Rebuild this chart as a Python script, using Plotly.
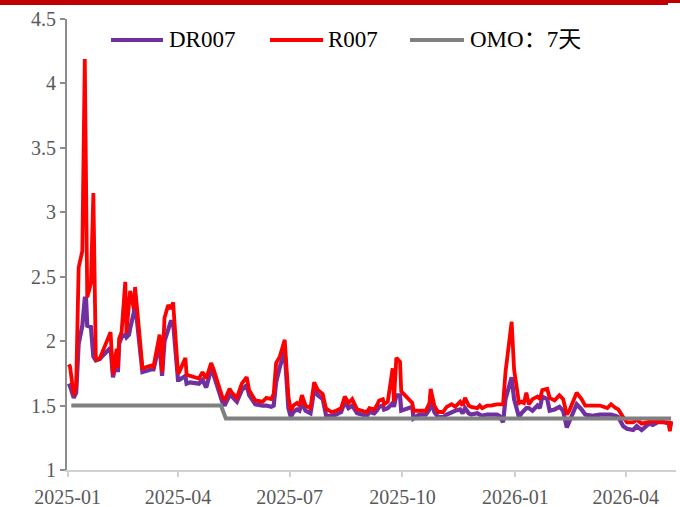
import plotly.graph_objects as go

# ---------------- data ----------------
dates = [
    "2025-01-02", "2025-01-03", "2025-01-06", "2025-01-08", "2025-01-10", "2025-01-13",
    "2025-01-15", "2025-01-16", "2025-01-17", "2025-01-20", "2025-01-22", "2025-01-24",
    "2025-01-27", "2025-02-05", "2025-02-07", "2025-02-10", "2025-02-11", "2025-02-12",
    "2025-02-14", "2025-02-17", "2025-02-18", "2025-02-20", "2025-02-21", "2025-02-24",
    "2025-02-25", "2025-02-28", "2025-03-03", "2025-03-10", "2025-03-12", "2025-03-17",
    "2025-03-19", "2025-03-21", "2025-03-24", "2025-03-26", "2025-03-28", "2025-04-01",
    "2025-04-02", "2025-04-07", "2025-04-08", "2025-04-11", "2025-04-18", "2025-04-21",
    "2025-04-24", "2025-04-28", "2025-04-30", "2025-05-07", "2025-05-09", "2025-05-13",
    "2025-05-15", "2025-05-19", "2025-05-23", "2025-05-27", "2025-05-29", "2025-06-03",
    "2025-06-09", "2025-06-12", "2025-06-16", "2025-06-18", "2025-06-20", "2025-06-23",
    "2025-06-27", "2025-06-30", "2025-07-02", "2025-07-04", "2025-07-07", "2025-07-09",
    "2025-07-11", "2025-07-14", "2025-07-18", "2025-07-21", "2025-07-24", "2025-07-28",
    "2025-07-31", "2025-08-01", "2025-08-04", "2025-08-08", "2025-08-12", "2025-08-15",
    "2025-08-18", "2025-08-21", "2025-08-25", "2025-08-29", "2025-09-02", "2025-09-04",
    "2025-09-08", "2025-09-10", "2025-09-12", "2025-09-15", "2025-09-16", "2025-09-19",
    "2025-09-23", "2025-09-24", "2025-09-26", "2025-09-29", "2025-09-30", "2025-10-09",
    "2025-10-10", "2025-10-13", "2025-10-15", "2025-10-20", "2025-10-23", "2025-10-24",
    "2025-10-27", "2025-10-30", "2025-11-03", "2025-11-06", "2025-11-10", "2025-11-13",
    "2025-11-17", "2025-11-19", "2025-11-21", "2025-11-24", "2025-11-26", "2025-12-01",
    "2025-12-03", "2025-12-05", "2025-12-09", "2025-12-12", "2025-12-17", "2025-12-19",
    "2025-12-22", "2025-12-24", "2025-12-29", "2025-12-31", "2026-01-04", "2026-01-06",
    "2026-01-08", "2026-01-10", "2026-01-12", "2026-01-15", "2026-01-19", "2026-01-21",
    "2026-01-23", "2026-01-27", "2026-01-29", "2026-02-02", "2026-02-06", "2026-02-09",
    "2026-02-12", "2026-02-14", "2026-02-20", "2026-02-24", "2026-02-27", "2026-03-05",
    "2026-03-11", "2026-03-17", "2026-03-20", "2026-03-24", "2026-03-26", "2026-03-30",
    "2026-04-02", "2026-04-07", "2026-04-10", "2026-04-14", "2026-04-20", "2026-04-23",
    "2026-04-29", "2026-05-06", "2026-05-07", "2026-05-08",
]

r007 = [
    1.82, 1.80, 1.58, 1.66, 2.57, 2.70,
    4.19, 2.72, 2.34, 2.45, 3.15, 1.86,
    1.86, 2.07, 1.74, 1.94, 1.79, 2.02,
    2.07, 2.46, 2.06, 2.29, 2.39, 2.25,
    2.42, 2.11, 1.79, 1.81, 1.80, 2.05,
    1.76, 2.18, 2.28, 2.25, 2.30, 1.75,
    1.76, 1.87, 1.74, 1.73, 1.71, 1.76,
    1.71, 1.83, 1.78, 1.57, 1.54, 1.63,
    1.60, 1.56, 1.67, 1.72, 1.62, 1.54,
    1.53, 1.56, 1.55, 1.59, 1.83, 1.88,
    2.01, 1.57, 1.46, 1.50, 1.52, 1.50,
    1.58, 1.50, 1.48, 1.68, 1.62, 1.59,
    1.46, 1.47, 1.45, 1.46, 1.48, 1.57,
    1.52, 1.55, 1.47, 1.46, 1.45, 1.48,
    1.47, 1.50, 1.54, 1.55, 1.51, 1.53,
    1.79, 1.53, 1.87, 1.84, 1.61, 1.52,
    1.46, 1.46, 1.46, 1.46, 1.52, 1.63,
    1.50, 1.45, 1.45, 1.49, 1.51, 1.49,
    1.53, 1.50, 1.56, 1.50, 1.49, 1.48,
    1.50, 1.48, 1.50, 1.50, 1.51, 1.51,
    1.51, 1.76, 2.15, 1.78, 1.52, 1.53,
    1.52, 1.60, 1.51, 1.55, 1.57, 1.55,
    1.62, 1.63, 1.56, 1.54, 1.58, 1.55,
    1.43, 1.46, 1.60, 1.55, 1.50, 1.50,
    1.50, 1.48, 1.51, 1.48, 1.47, 1.41,
    1.37, 1.37, 1.39, 1.36, 1.37, 1.38,
    1.37, 1.37, 1.30, 1.38,
]

dr007 = [
    1.67, 1.65, 1.56, 1.60, 1.98, 2.12,
    2.33, 2.33, 2.12, 2.11, 1.88, 1.85,
    1.86, 1.95, 1.72, 1.86, 1.76, 1.98,
    2.03, 2.05, 2.03, 2.05, 2.10, 2.22,
    2.30, 2.05, 1.76, 1.78, 1.78, 1.98,
    1.73, 2.00, 2.10, 2.15, 2.15, 1.70,
    1.70, 1.73, 1.67, 1.68, 1.67, 1.70,
    1.64, 1.78, 1.74, 1.53, 1.50, 1.58,
    1.57, 1.53, 1.62, 1.66, 1.58, 1.51,
    1.50, 1.50, 1.49, 1.50, 1.68, 1.80,
    1.92, 1.48, 1.41, 1.45, 1.47, 1.46,
    1.52, 1.46, 1.44, 1.62, 1.58, 1.55,
    1.41, 1.42, 1.42, 1.43, 1.45, 1.53,
    1.48, 1.50, 1.44, 1.43, 1.42, 1.45,
    1.44, 1.46, 1.49, 1.50, 1.47, 1.48,
    1.52, 1.49, 1.58, 1.58, 1.46, 1.49,
    1.40, 1.42, 1.43, 1.43, 1.47, 1.57,
    1.45, 1.41, 1.41, 1.43, 1.45, 1.46,
    1.47, 1.44, 1.48, 1.44, 1.43, 1.44,
    1.43, 1.42, 1.43, 1.43, 1.43, 1.42,
    1.37, 1.55, 1.72, 1.55, 1.41, 1.44,
    1.46, 1.48, 1.48, 1.46, 1.50, 1.48,
    1.57, 1.55, 1.46, 1.47, 1.49, 1.46,
    1.33, 1.38, 1.51, 1.47, 1.43, 1.42,
    1.43, 1.43, 1.43, 1.42, 1.41, 1.34,
    1.32, 1.31, 1.34, 1.31, 1.36, 1.35,
    1.38, 1.36, 1.33, 1.37,
]

omo_dates = ["2025-01-04", "2025-05-06", "2025-05-10", "2026-05-08"]
omo_7d = [1.5, 1.5, 1.4, 1.4]

series_names = ["DR007", "R007", "OMO：7天"]
series_colors = ["#7030A0", "#FF0000", "#808080"]

x_tick_vals = ["2025-01-01", "2025-04-01", "2025-07-01", "2025-10-01", "2026-01-01", "2026-04-01"]
x_tick_text = ["2025-01", "2025-04", "2025-07", "2025-10", "2026-01", "2026-04"]
y_tick_vals = [1, 1.5, 2, 2.5, 3, 3.5, 4, 4.5]
y_tick_text = ["1", "1.5", "2", "2.5", "3", "3.5", "4", "4.5"]

# ---------------- layout helpers ----------------
W, H = 680, 507
ML, MR, MT, MB = 67, 4, 19, 37
PW, PH = W - ML - MR, H - MT - MB


def px(x):
    return (x - ML) / PW


def py(y):
    return (H - MB - y) / PH


FONT = "'Liberation Serif', 'Noto Sans CJK SC', serif"

fig = go.Figure()
fig.add_trace(go.Scatter(x=dates, y=dr007, mode="lines", name=series_names[0],
                         line=dict(color=series_colors[0], width=4.2)))
fig.add_trace(go.Scatter(x=dates, y=r007, mode="lines", name=series_names[1],
                         line=dict(color=series_colors[1], width=3.8)))
fig.add_trace(go.Scatter(x=omo_dates, y=omo_7d, mode="lines", name=series_names[2],
                         line=dict(color=series_colors[2], width=4)))

shapes = []
# top red banner
shapes.append(dict(type="rect", xref="paper", yref="paper", x0=px(0), x1=px(668),
                   y0=py(5), y1=py(0), fillcolor="#C00000", line=dict(width=0), layer="above"))
shapes.append(dict(type="rect", xref="paper", yref="paper", x0=px(668), x1=px(680),
                   y0=py(3), y1=py(0), fillcolor="#C00000", line=dict(width=0), layer="above"))

# custom legend
leg_y = 40
leg_items = [(111, 163, 167), (270, 323, 326), (410, 464, 468)]
annotations = []
for (x0, x1, xt), name, col in zip(leg_items, series_names, series_colors):
    shapes.append(dict(type="line", xref="paper", yref="paper", x0=px(x0), x1=px(x1),
                       y0=py(leg_y), y1=py(leg_y), line=dict(color=col, width=4)))
    annotations.append(dict(xref="paper", yref="paper", x=px(xt), y=py(leg_y), text=name,
                            showarrow=False, xanchor="left", yanchor="middle",
                            font=dict(family=FONT, size=23, color="#000000")))

fig.update_layout(
    width=W, height=H,
    margin=dict(l=ML, r=MR, t=MT, b=MB, autoexpand=False),
    paper_bgcolor="white", plot_bgcolor="white",
    showlegend=False,
    shapes=shapes, annotations=annotations,
    font=dict(family=FONT, size=20, color="#595959"),
)
fig.update_xaxes(type="date", range=["2024-12-31 12:00", "2026-05-12"],
                 tickvals=x_tick_vals, ticktext=x_tick_text,
                 ticks="outside", ticklen=5, tickcolor="#D0D0D0", tickwidth=1.5,
                 showline=True, linecolor="#D0D0D0", linewidth=1.5,
                 showgrid=False, zeroline=False, automargin=False, ticklabelstandoff=3,
                 tickfont=dict(family=FONT, size=20, color="#595959"))
fig.update_yaxes(range=[1, 4.5], tickvals=y_tick_vals, ticktext=y_tick_text,
                 ticks="outside", ticklen=5, tickcolor="#8C8C8C", tickwidth=1.5,
                 showline=True, linecolor="#8C8C8C", linewidth=2,
                 showgrid=False, zeroline=False, automargin=False,
                 tickfont=dict(family=FONT, size=20, color="#595959"))

fig.write_html("out.html", config={"displayModeBar": False},
               post_script="document.body.style.margin='0';")
